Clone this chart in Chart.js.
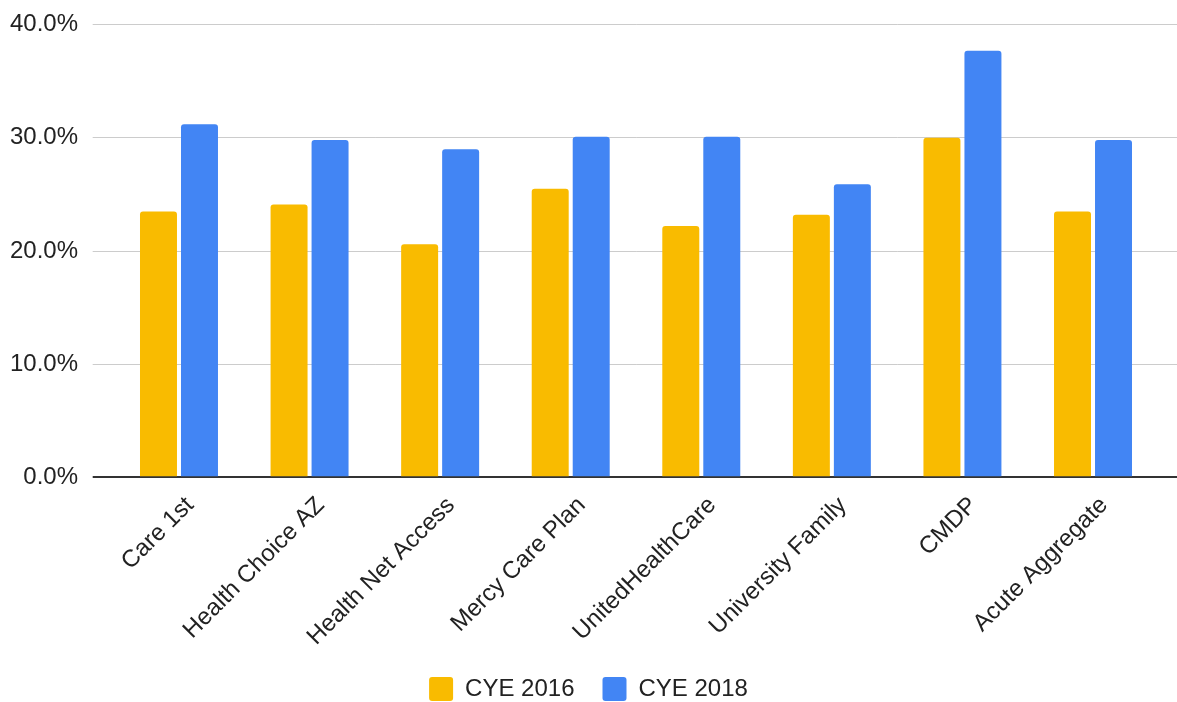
<!DOCTYPE html>
<html>
<head>
<meta charset="utf-8">
<script src="https://cdn.jsdelivr.net/npm/chart.js@4.4.1/dist/chart.umd.min.js"></script>
<style>
  html, body { margin: 0; padding: 0; background: #ffffff; }
  #wrap { width: 1177px; height: 702px; position: relative; }
</style>
</head>
<body>
<div id="wrap"><canvas id="c" width="1177" height="702"></canvas></div>
<script>
const categories = ['Care 1st', 'Health Choice AZ', 'Health Net Access', 'Mercy Care Plan', 'UnitedHealthCare', 'University Family', 'CMDP', 'Acute Aggregate'];
const seriesNames = ['CYE 2016', 'CYE 2018'];
const cye2016 = [23.5, 24.1, 20.6, 25.5, 22.2, 23.2, 30.0, 23.5];
const cye2018 = [31.2, 29.8, 29.0, 30.1, 30.1, 25.9, 37.7, 29.8];
const yTicks = [0, 10, 20, 30, 40];

const FONT = 'Liberation Sans, Arial, sans-serif';
const gridColor = (ctx) => (ctx.tick && ctx.tick.value === 0) ? '#333333' : '#cccccc';
const gridWidth = (ctx) => (ctx.tick && ctx.tick.value === 0) ? 2 : 1;

new Chart(document.getElementById('c'), {
  type: 'bar',
  data: {
    labels: categories,
    datasets: [
      { label: seriesNames[0], data: cye2016, backgroundColor: '#F9BB00', borderRadius: 3, borderSkipped: 'start' },
      { label: seriesNames[1], data: cye2018, backgroundColor: '#4285F4', borderRadius: 3, borderSkipped: 'start' }
    ]
  },
  options: {
    responsive: false,
    animation: false,
    devicePixelRatio: 1,
    layout: { padding: { top: 24.7, right: 0, bottom: 0, left: 0 } },
    datasets: { bar: { categoryPercentage: 0.628, barPercentage: 0.902 } },
    plugins: {
      tooltip: { enabled: false },
      legend: {
        position: 'bottom',
        maxHeight: 53,
        labels: {
          boxWidth: 24, boxHeight: 24, useBorderRadius: true, borderRadius: 3,
          padding: 28, color: '#222222',
          font: { family: FONT, size: 24 }
        }
      }
    },
    scales: {
      x: {
        grid: { display: false, drawTicks: false },
        border: { display: false },
        ticks: {
          autoSkip: false, maxRotation: 45, minRotation: 45,
          padding: 14, labelOffset: 11, color: '#222222',
          font: { family: FONT, size: 24 }
        },
        afterFit: (s) => { s.height = 171.7; }
      },
      y: {
        position: 'left',
        min: 0, max: 40,
        afterBuildTicks: (s) => { s.ticks = yTicks.map(v => ({ value: v })); },
        grid: { color: gridColor, lineWidth: gridWidth, drawTicks: true, tickLength: 21 },
        border: { display: false },
        ticks: {
          padding: 14.7, color: '#222222',
          font: { family: FONT, size: 24 },
          callback: (v) => Number(v).toFixed(1) + '%'
        },
        afterFit: (s) => { s.width = 113.7; s.paddingTop = 0; s.paddingBottom = 0; }
      },
      y2: {
        position: 'right',
        min: 0, max: 40,
        afterBuildTicks: (s) => { s.ticks = yTicks.map(v => ({ value: v })); },
        grid: { color: gridColor, lineWidth: gridWidth, drawOnChartArea: false, drawTicks: true, tickLength: 19 },
        border: { display: false },
        ticks: { display: false },
        afterFit: (s) => { s.width = 18.7; s.paddingTop = 0; s.paddingBottom = 0; }
      }
    }
  }
});
</script>
</body>
</html>
